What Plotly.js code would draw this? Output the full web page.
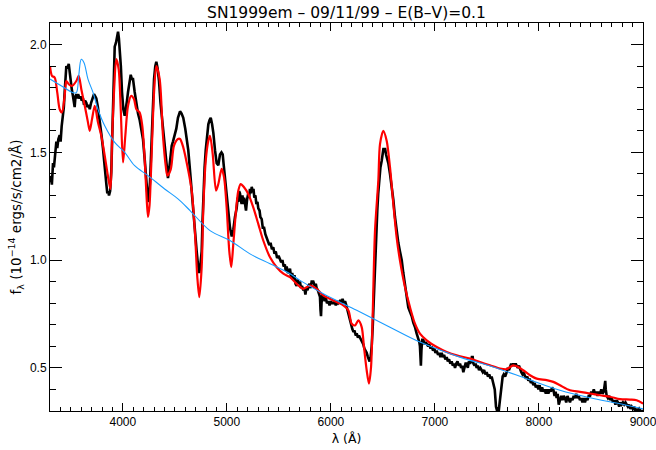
<!DOCTYPE html>
<html>
<head>
<meta charset="utf-8">
<script src="https://cdn.plot.ly/plotly-3.0.1.min.js"></script>
<style>html,body{margin:0;padding:0;background:#fff;}#chart{width:656px;height:450px;}</style>
</head>
<body>
<div id="chart"></div>
<script>
// Observed spectrum (black)
var obsWave = [3300,3310,3318,3329,3338,3348,3361,3370,3380,3393,3402,3412,3425,3433,3441,3450,3457,3468,3480,3490,3499,3510,3521,3528,3537,3545,3553,3562,3570,3585,3595,3605,3617,3627,3637,3649,3660,3672,3682,3695,3708,3723,3735,3745,3760,3778,3795,3809,3820,3832,3842,3851,3860,3867,3878,3889,3898,3906,3914,3922,3935,3946,3954,3962,3970,3981,3992,4005,4018,4030,4040,4050,4062,4076,4087,4098,4114,4130,4146,4162,4178,4194,4210,4226,4234,4242,4250,4261,4270,4280,4290,4300,4312,4322,4334,4348,4362,4376,4386,4400,4410,4418,4426,4434,4445,4458,4470,4482,4498,4514,4530,4550,4565,4581,4600,4615,4629,4645,4662,4677,4693,4710,4722,4735,4746,4758,4766,4774,4786,4797,4810,4822,4834,4845,4858,4870,4886,4902,4918,4926,4934,4948,4960,4970,4982,4993,5004,5018,5030,5047,5062,5078,5094,5104,5110,5118,5126,5134,5142,5150,5158,5166,5176,5184,5194,5206,5214,5222,5232,5239,5248,5256,5264,5274,5284,5294,5302,5314,5322,5335,5345,5358,5370,5383,5395,5408,5420,5433,5446,5458,5470,5483,5497,5511,5522,5534,5546,5557,5566,5575,5586,5597,5607,5617,5628,5639,5650,5660,5671,5680,5690,5703,5712,5722,5735,5745,5755,5764,5775,5783,5795,5805,5815,5831,5845,5855,5863,5875,5887,5895,5900,5905,5910,5918,5927,5940,5950,5962,5975,5987,5999,6011,6023,6035,6047,6059,6070,6087,6100,6112,6124,6136,6148,6158,6170,6184,6196,6206,6215,6228,6240,6248,6260,6270,6280,6292,6302,6311,6322,6334,6344,6356,6365,6372,6382,6392,6402,6413,6424,6435,6446,6455,6465,6476,6488,6498,6506,6512,6520,6530,6541,6552,6568,6584,6600,6616,6632,6648,6664,6681,6696,6712,6728,6744,6760,6777,6792,6808,6824,6840,6850,6856,6860,6865,6870,6878,6888,6900,6912,6921,6935,6945,6958,6969,6982,6994,7005,7017,7030,7042,7053,7065,7077,7088,7100,7113,7124,7136,7148,7161,7172,7183,7193,7205,7217,7229,7241,7252,7262,7273,7283,7294,7305,7316,7326,7337,7348,7355,7363,7370,7381,7392,7401,7412,7424,7437,7449,7460,7473,7485,7497,7510,7522,7535,7545,7556,7565,7575,7587,7598,7609,7620,7632,7642,7651,7662,7675,7690,7700,7712,7722,7733,7743,7753,7765,7776,7786,7797,7808,7818,7830,7842,7854,7866,7876,7888,7898,7910,7922,7934,7946,7958,7970,7982,7994,8006,8018,8030,8042,8054,8066,8078,8090,8102,8114,8126,8138,8150,8160,8170,8180,8190,8202,8214,8226,8238,8250,8262,8274,8286,8298,8310,8322,8334,8346,8358,8370,8382,8394,8406,8418,8430,8442,8454,8466,8478,8491,8503,8515,8527,8539,8551,8563,8575,8587,8599,8611,8623,8632,8637,8642,8651,8663,8675,8687,8699,8711,8723,8735,8747,8759,8771,8783,8795,8807,8819,8831,8843,8855,8867,8879,8891,8903,8915,8927,8939,8951,8963,8975,8987,9000];
var obsFlux = [1.36,1.39,1.35,1.45,1.43,1.50,1.55,1.52,1.56,1.58,1.55,1.62,1.67,1.71,1.78,1.86,1.90,1.89,1.91,1.87,1.82,1.79,1.76,1.73,1.71,1.76,1.77,1.75,1.77,1.75,1.76,1.74,1.75,1.72,1.74,1.73,1.71,1.72,1.70,1.73,1.75,1.77,1.76,1.75,1.71,1.65,1.58,1.52,1.45,1.39,1.35,1.31,1.32,1.30,1.32,1.41,1.60,1.78,1.92,1.99,2.01,2.04,2.06,2.03,1.99,1.90,1.78,1.70,1.67,1.70,1.74,1.78,1.82,1.86,1.84,1.84,1.78,1.72,1.68,1.65,1.61,1.56,1.47,1.39,1.32,1.27,1.29,1.36,1.48,1.62,1.74,1.84,1.90,1.92,1.89,1.83,1.73,1.66,1.62,1.53,1.47,1.44,1.40,1.38,1.42,1.49,1.53,1.55,1.58,1.61,1.66,1.69,1.68,1.66,1.61,1.56,1.51,1.42,1.32,1.20,1.12,1.04,0.98,0.94,0.98,1.04,1.18,1.32,1.43,1.51,1.58,1.63,1.65,1.66,1.63,1.59,1.51,1.45,1.44,1.47,1.49,1.50,1.49,1.44,1.38,1.33,1.28,1.21,1.15,1.11,1.14,1.20,1.24,1.29,1.27,1.32,1.31,1.28,1.26,1.30,1.26,1.29,1.24,1.23,1.28,1.31,1.29,1.33,1.31,1.34,1.32,1.33,1.29,1.30,1.26,1.27,1.24,1.23,1.20,1.19,1.15,1.15,1.12,1.10,1.09,1.07,1.08,1.05,1.06,1.03,1.04,1.01,1.02,1.00,0.99,1.00,0.97,0.98,0.95,0.97,0.94,0.95,0.96,0.92,0.94,0.91,0.93,0.89,0.88,0.91,0.89,0.90,0.87,0.88,0.86,0.87,0.84,0.87,0.86,0.88,0.89,0.87,0.90,0.90,0.88,0.89,0.87,0.86,0.84,0.83,0.77,0.74,0.80,0.84,0.83,0.81,0.83,0.80,0.81,0.79,0.81,0.80,0.80,0.81,0.79,0.81,0.80,0.81,0.80,0.82,0.80,0.81,0.79,0.77,0.74,0.72,0.69,0.68,0.67,0.67,0.65,0.66,0.64,0.65,0.64,0.63,0.62,0.61,0.59,0.58,0.57,0.55,0.54,0.53,0.55,0.60,0.69,0.84,1.00,1.12,1.23,1.31,1.38,1.43,1.46,1.49,1.52,1.50,1.52,1.49,1.47,1.45,1.40,1.35,1.28,1.20,1.13,1.08,1.04,1.00,0.94,0.88,0.83,0.78,0.76,0.74,0.71,0.69,0.66,0.64,0.62,0.60,0.53,0.51,0.58,0.63,0.63,0.61,0.62,0.61,0.60,0.61,0.59,0.60,0.58,0.59,0.57,0.58,0.56,0.57,0.55,0.57,0.55,0.56,0.54,0.55,0.53,0.54,0.52,0.53,0.51,0.52,0.50,0.52,0.53,0.51,0.52,0.50,0.51,0.48,0.50,0.52,0.52,0.50,0.53,0.52,0.53,0.55,0.55,0.52,0.51,0.52,0.50,0.51,0.49,0.50,0.49,0.48,0.49,0.47,0.48,0.46,0.47,0.45,0.46,0.44,0.43,0.40,0.32,0.29,0.28,0.33,0.38,0.42,0.46,0.47,0.46,0.48,0.50,0.49,0.51,0.52,0.51,0.52,0.51,0.52,0.51,0.50,0.51,0.49,0.48,0.47,0.48,0.46,0.45,0.46,0.44,0.45,0.43,0.44,0.42,0.43,0.41,0.42,0.40,0.42,0.39,0.41,0.39,0.40,0.38,0.40,0.38,0.40,0.39,0.41,0.40,0.37,0.39,0.36,0.38,0.33,0.35,0.37,0.35,0.37,0.36,0.34,0.37,0.35,0.34,0.36,0.35,0.37,0.36,0.38,0.36,0.37,0.35,0.36,0.34,0.36,0.34,0.36,0.35,0.37,0.37,0.39,0.38,0.40,0.38,0.39,0.37,0.39,0.38,0.40,0.38,0.39,0.42,0.44,0.40,0.37,0.36,0.37,0.35,0.36,0.34,0.35,0.33,0.35,0.34,0.32,0.34,0.33,0.34,0.33,0.34,0.33,0.32,0.33,0.31,0.32,0.31,0.32,0.30,0.31,0.30,0.31,0.30,0.30,0.30];

// Model spectrum (red)
var modWave = [3300,3319,3345,3370,3393,3415,3441,3457,3480,3511,3553,3576,3601,3634,3665,3682,3704,3730,3761,3793,3826,3851,3867,3882,3896,3915,3937,3960,3980,4002,4024,4050,4081,4107,4130,4162,4187,4210,4226,4242,4256,4273,4300,4322,4354,4386,4412,4428,4460,4492,4530,4550,4581,4629,4662,4694,4716,4735,4758,4774,4797,4822,4838,4864,4896,4918,4950,4973,4998,5023,5042,5062,5088,5110,5133,5165,5206,5254,5302,5350,5415,5479,5543,5607,5671,5735,5799,5863,5927,6023,6119,6168,6200,6232,6264,6296,6318,6344,6366,6386,6402,6424,6456,6472,6504,6536,6568,6600,6632,6664,6712,6760,6808,6856,6921,7017,7113,7209,7337,7433,7529,7625,7690,7753,7801,7849,7914,7978,8074,8138,8202,8298,8394,8491,8587,8683,8779,8875,8939,9000];
var modFlux = [1.90,1.855,1.847,1.777,1.70,1.685,1.762,1.831,1.816,1.808,1.831,1.855,1.793,1.716,1.639,1.60,1.654,1.716,1.639,1.577,1.484,1.407,1.361,1.33,1.546,1.777,1.932,1.886,1.70,1.453,1.577,1.716,1.762,1.747,1.70,1.685,1.623,1.469,1.314,1.20,1.25,1.438,1.777,1.90,1.84,1.577,1.438,1.392,1.42,1.531,1.562,1.562,1.523,1.415,1.322,1.122,0.921,0.828,0.967,1.245,1.461,1.554,1.577,1.492,1.322,1.353,1.423,1.384,1.245,1.044,0.967,1.075,1.23,1.322,1.353,1.338,1.307,1.245,1.168,1.091,1.013,0.967,0.937,0.921,0.89,0.867,0.882,0.867,0.836,0.813,0.79,0.767,0.705,0.697,0.72,0.689,0.597,0.489,0.427,0.504,0.751,1.137,1.369,1.538,1.60,1.554,1.431,1.261,1.106,0.998,0.875,0.782,0.705,0.659,0.628,0.597,0.574,0.558,0.543,0.527,0.512,0.497,0.494,0.512,0.504,0.489,0.466,0.45,0.443,0.435,0.419,0.396,0.389,0.381,0.373,0.366,0.355,0.353,0.35,0.334];

// Blackbody continuum (blue)
var bbWave = [3300,3411,3521,3553,3576,3601,3627,3665,3714,3761,3826,3922,4018,4114,4242,4402,4530,4646,4838,5030,5222,5415,5607,5703,5927,6248,6568,6856,7241,7561,7882,8202,8523,8843,9000];
var bbFlux = [1.84,1.808,1.777,1.777,1.855,1.932,1.916,1.84,1.777,1.70,1.623,1.546,1.50,1.438,1.392,1.33,1.284,1.23,1.137,1.091,1.029,0.983,0.937,0.906,0.844,0.767,0.689,0.62,0.55,0.504,0.45,0.396,0.358,0.327,0.31];

var xTicks = [4000,5000,6000,7000,8000,9000];
var yTicks = [0.5,1.0,1.5,2.0];

var traces = [
  {x: obsWave, y: obsFlux, type:'scatter', mode:'lines', line:{color:'#000000', width:2.6}, hoverinfo:'skip'},
  {x: modWave, y: modFlux, type:'scatter', mode:'lines', line:{color:'#ff0000', width:2.2, shape:'spline', smoothing:0.8}, hoverinfo:'skip'},
  {x: bbWave, y: bbFlux, type:'scatter', mode:'lines', line:{color:'#1a9cff', width:1.1, shape:'spline', smoothing:1}, hoverinfo:'skip'}
];

var font = {family:'Liberation Sans, Arial, sans-serif', size:12, color:'#000'};
var titleFont = {family:'DejaVu Sans, Liberation Sans, sans-serif', size:12.5, color:'#000'};

var layout = {
  width:656, height:450,
  margin:{l:50, r:13, t:23, b:39, pad:0},
  paper_bgcolor:'#fff', plot_bgcolor:'#fff',
  showlegend:false,
  font: font,
  title:{text:'SN1999em – 09/11/99 – E(B–V)=0.1', font:{family:'DejaVu Sans, Liberation Sans, sans-serif', size:15.5, color:'#000'}, x:0.5, xref:'paper', xanchor:'center', y:0.972, yref:'container', yanchor:'middle'},
  xaxis:{
    range:[3300,9000], tickvals:xTicks, ticktext:xTicks.map(String),
    showline:true, linecolor:'#000', linewidth:1, mirror:'ticks',
    ticks:'inside', ticklen:8, tickcolor:'#000', tickwidth:1,
    minor:{dtick:100, tick0:0, ticks:'inside', ticklen:4, tickcolor:'#000', tickwidth:1},
    showgrid:false, zeroline:false,
    tickfont:font, ticklabeloverflow:'allow',
    title:{text:'λ (Å)', font:titleFont, standoff:5},
    automargin:false
  },
  yaxis:{
    range:[0.3,2.1], tickvals:yTicks, ticktext:yTicks.map(function(v){return v.toFixed(1);}),
    showline:true, linecolor:'#000', linewidth:1, mirror:'ticks',
    ticks:'inside', ticklen:12, tickcolor:'#000', tickwidth:1,
    minor:{dtick:0.1, tick0:0, ticks:'inside', ticklen:6, tickcolor:'#000', tickwidth:1},
    showgrid:false, zeroline:false,
    tickfont:font, ticklabeloverflow:'allow',
    title:{text:'f<sub>λ</sub> (10<sup>−14</sup> ergs/s/cm2/Å)', font:{family:'DejaVu Sans, Liberation Sans, sans-serif', size:13.5, color:'#000'}, standoff:5},
    automargin:false
  }
};

Plotly.newPlot('chart', traces, layout, {staticPlot:true, displayModeBar:false});
</script>
</body>
</html>
